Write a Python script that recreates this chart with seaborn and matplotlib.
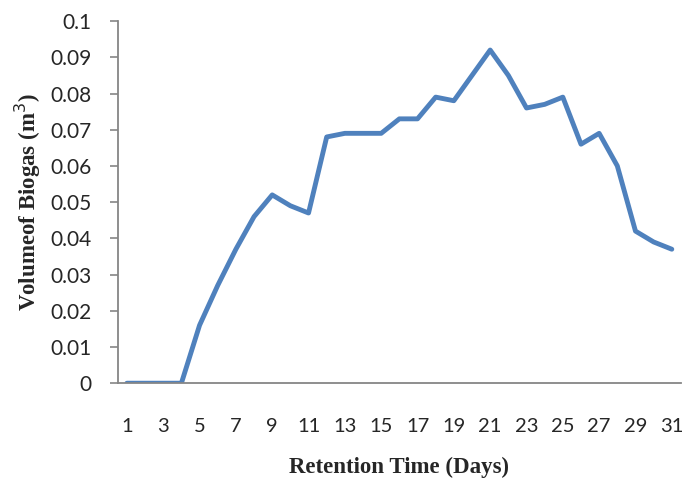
import matplotlib
matplotlib.use("Agg")
import matplotlib.pyplot as plt
import seaborn as sns
import pandas as pd

days = list(range(1, 32))
volume = [0, 0, 0, 0, 0.016, 0.027, 0.037, 0.046, 0.052, 0.049, 0.047,
          0.068, 0.069, 0.069, 0.069, 0.073, 0.073, 0.079, 0.078, 0.085,
          0.092, 0.085, 0.076, 0.077, 0.079, 0.066, 0.069, 0.060, 0.042,
          0.039, 0.037]
yticks = [0, 0.01, 0.02, 0.03, 0.04, 0.05, 0.06, 0.07, 0.08, 0.09, 0.1]
ytick_labels = ["0", "0.01", "0.02", "0.03", "0.04", "0.05", "0.06", "0.07", "0.08", "0.09", "0.1"]
xticks = list(range(1, 32, 2))

sns.set_theme(style="white")
df = pd.DataFrame({"day": days, "vol": volume})

fig = plt.figure(figsize=(6.85, 4.79), dpi=100)
ax = fig.add_axes([0.172, 0.2, 0.822, 0.756])
sns.lineplot(data=df, x="day", y="vol", ax=ax, color="#4F81BD", linewidth=3.5)

ax.set_xlim(0.5, 31.5)
ax.set_ylim(0, 0.1)
ax.set_yticks(yticks)
ax.set_yticklabels(ytick_labels, fontfamily="Lato", fontsize=15)
ax.set_xticks(xticks)
ax.set_xticklabels([str(x) for x in xticks], fontfamily="Lato", fontsize=14.5)
for s in ["top", "right"]:
    ax.spines[s].set_visible(False)
for s in ["left", "bottom"]:
    ax.spines[s].set_color("#868686")
    ax.spines[s].set_linewidth(1.3)
ax.tick_params(axis="y", which="both", left=True, length=6, width=1.2, color="#868686", pad=13)
ax.tick_params(axis="x", which="both", bottom=False, pad=19)
ax.set_xlabel("Retention Time (Days)", fontfamily="Liberation Serif", fontweight="bold", fontsize=16.5, labelpad=16)
ax.set_ylabel("Volumeof Biogas (m$^3$)", fontfamily="Liberation Serif", fontweight="bold", fontsize=16.5, labelpad=5)
ax.grid(False)

fig.savefig("out.png", dpi=100)
